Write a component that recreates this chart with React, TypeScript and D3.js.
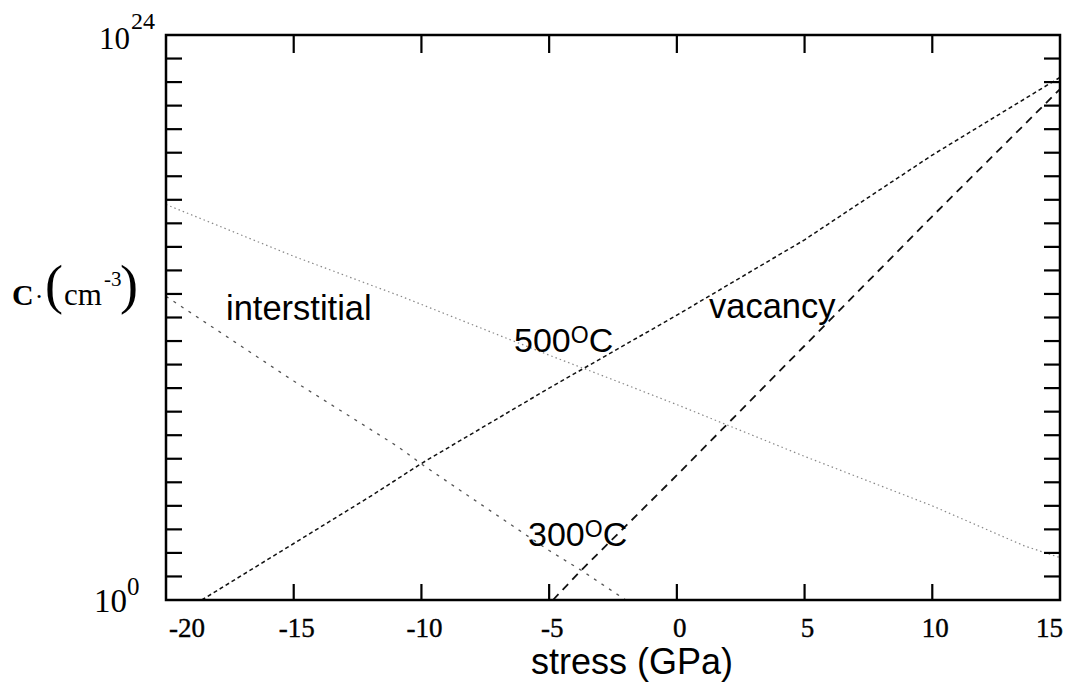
import React from "react";
import * as d3 from "d3";

// stress (GPa) and log10 of concentration (cm^-3)
const vac500Stress = [-18.6, -15, -12, -10, -5, 0, 5, 6.8, 10, 15];
const vac500Log = [0, 2.4, 4.4, 5.8, 9.0, 12.1, 15.3, 16.6, 18.9, 22.2];

const vac300Stress = [-4.85, -3.8, 0, 5, 10, 15];
const vac300Log = [0, 1.2, 5.3, 10.8, 16.3, 21.7];

const int500Stress = [-20, -15, -10.8, -5, -2.6, 0, 5, 10, 13.6, 15];
const int500Log = [16.8, 14.6, 12.9, 10.4, 9.4, 8.3, 6.1, 4.0, 2.3, 1.8];

const int300Stress = [-20, -15, -10.9, -9.9, -5, -3.8, -2.0];
const int300Log = [12.9, 9.3, 6.5, 5.7, 2.1, 1.3, 0];

const xTicks = [-20, -15, -10, -5, 0, 5, 10, 15];
const xTickLabels = ["-20", "-15", "-10", "-5", "0", "5", "10", "15"];
const yDecades = d3.range(0, 25);

const W = 1067;
const H = 682;
const L = 166, R = 1060, T = 35, B = 600;

export default function App() {
  const x = d3.scaleLinear().domain([-20, 15]).range([L, R]);
  const y = d3.scaleLog().domain([1, 1e24]).range([B, T]);

  const line = d3
    .line<[number, number]>()
    .x((d) => x(d[0]))
    .y((d) => y(Math.pow(10, d[1])));

  const zip = (a: number[], b: number[]) => a.map((v, i) => [v, b[i]] as [number, number]);

  const serif = "'Liberation Serif', 'Times New Roman', serif";
  const sans = "'Liberation Sans', Arial, Helvetica, sans-serif";
  const tickLen = 16;

  return (
    <svg
      width={W}
      height={H}
      viewBox={`0 0 ${W} ${H}`}
      style={{ position: "absolute", left: 0, top: 0, background: "#fff" }}
    >
      <rect x={0} y={0} width={W} height={H} fill="#fff" />

      {/* data lines */}
      <path
        d={line(zip(int500Stress, int500Log)) || ""}
        fill="none"
        stroke="#888"
        strokeWidth={1.2}
        strokeDasharray="1.5,3"
      />
      <path
        d={line(zip(int300Stress, int300Log)) || ""}
        fill="none"
        stroke="#555"
        strokeWidth={1.3}
        strokeDasharray="3,6"
      />
      <path
        d={line(zip(vac500Stress, vac500Log)) || ""}
        fill="none"
        stroke="#111"
        strokeWidth={1.5}
        strokeDasharray="4,3"
      />
      <path
        d={line(zip(vac300Stress, vac300Log)) || ""}
        fill="none"
        stroke="#111"
        strokeWidth={1.8}
        strokeDasharray="8,6"
      />

      {/* frame */}
      <rect x={L} y={T} width={R - L} height={B - T} fill="none" stroke="#000" strokeWidth={2.5} />

      {/* y ticks, left and right */}
      {yDecades.slice(1, -1).map((e) => (
        <g key={"yt" + e}>
          <line x1={L} x2={L + tickLen} y1={y(Math.pow(10, e))} y2={y(Math.pow(10, e))} stroke="#000" strokeWidth={2.2} />
          <line x1={R} x2={R - tickLen} y1={y(Math.pow(10, e))} y2={y(Math.pow(10, e))} stroke="#000" strokeWidth={2.2} />
        </g>
      ))}

      {/* x ticks, top and bottom */}
      {xTicks.slice(1, -1).map((t) => (
        <g key={"xt" + t}>
          <line x1={x(t)} x2={x(t)} y1={B} y2={B - tickLen} stroke="#000" strokeWidth={2.2} />
          <line x1={x(t)} x2={x(t)} y1={T} y2={T + tickLen + 2} stroke="#000" strokeWidth={2.2} />
        </g>
      ))}

      {/* x tick labels */}
      {xTicks.map((t, i) => {
        const first = i === 0;
        const last = i === xTicks.length - 1;
        return (
          <text
            key={"xl" + t}
            x={x(t) + 3}
            y={637}
            fontFamily={serif}
            fontSize={27}
            textAnchor={first ? "start" : last ? "end" : "middle"}
            fill="#000"
            stroke="#000"
            strokeWidth={0.4}
          >
            {xTickLabels[i]}
          </text>
        );
      })}

      {/* y tick labels */}
      <text x={130} y={y(1e24) + 14} fontFamily={serif} fontSize={31} textAnchor="end" fill="#000">
        10
      </text>
      <text x={131} y={y(1e24) - 6} fontFamily={serif} fontSize={24} fill="#000">
        24
      </text>
      <text x={127} y={y(1) + 12} fontFamily={serif} fontSize={33} textAnchor="end" fill="#000">
        10
      </text>
      <text x={127} y={y(1) - 5} fontFamily={serif} fontSize={25} fill="#000">
        0
      </text>

      {/* y axis label */}
      <text x={12} y={305} fontFamily={serif} fill="#000">
        <tspan fontSize={30} fontWeight="bold">C</tspan>
        <tspan fontSize={26} dx={1}>·</tspan>
      </text>
      <text x={45} y={303} fontFamily={serif} fontSize={54} fill="#000">(</text>
      <text x={64} y={305} fontFamily={serif} fontSize={31} fill="#000">cm</text>
      <text x={104} y={286} fontFamily={serif} fontSize={21} fill="#000">-3</text>
      <text x={120} y={303} fontFamily={serif} fontSize={54} fill="#000">)</text>

      {/* x axis label */}
      <text x={632} y={674} fontFamily={sans} fontSize={36} textAnchor="middle" fill="#000">
        stress (GPa)
      </text>

      {/* annotations */}
      <text x={226} y={320} fontFamily={sans} fontSize={34.5} fill="#000">interstitial</text>
      <text x={709} y={318} fontFamily={sans} fontSize={34.5} fill="#000">vacancy</text>
      <text x={514} y={352} fontFamily={sans} fontSize={34} fill="#000">
        500<tspan fontSize={23} dy={-9}>O</tspan><tspan dy={9}>C</tspan>
      </text>
      <text x={528} y={546} fontFamily={sans} fontSize={34} fill="#000">
        300<tspan fontSize={23} dy={-9}>O</tspan><tspan dy={9}>C</tspan>
      </text>
    </svg>
  );
}
